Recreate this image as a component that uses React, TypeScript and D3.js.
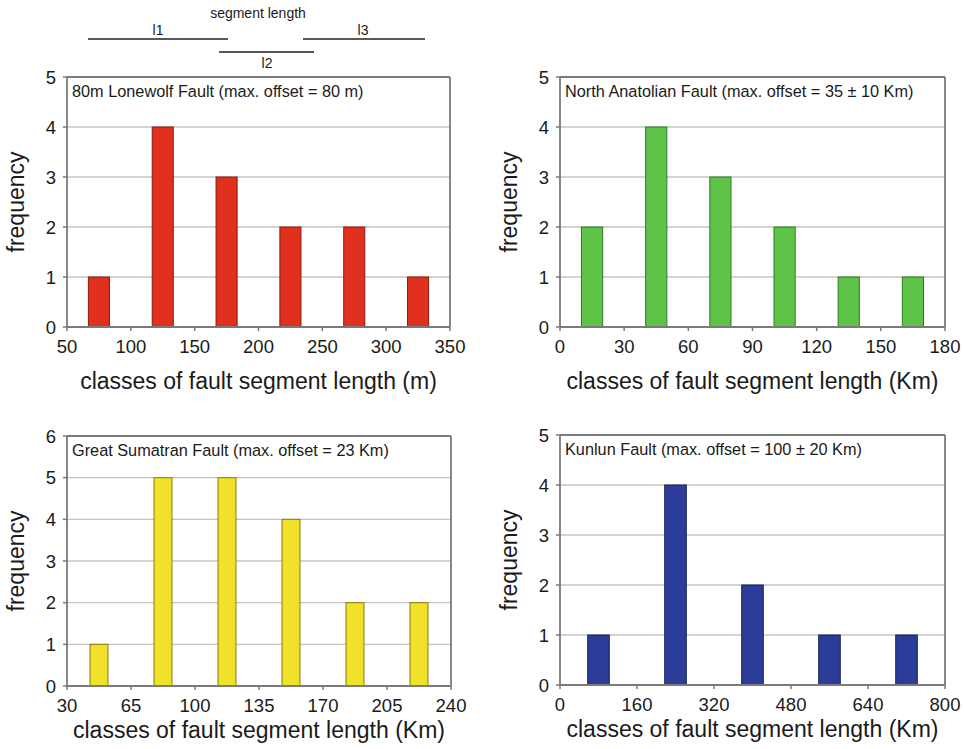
import React from "react";
import * as d3 from "d3";

const FONT = "'Liberation Sans', Arial, Helvetica, sans-serif";

// Panel 1: 80m Lonewolf Fault
const lonewolfCenters = [75, 125, 175, 225, 275, 325];
const lonewolfFreq = [1, 4, 3, 2, 2, 1];
const lonewolfTicks = [50, 100, 150, 200, 250, 300, 350];

// Panel 2: North Anatolian Fault
const anatolianCenters = [15, 45, 75, 105, 135, 165];
const anatolianFreq = [2, 4, 3, 2, 1, 1];
const anatolianTicks = [0, 30, 60, 90, 120, 150, 180];

// Panel 3: Great Sumatran Fault
const sumatranCenters = [47.5, 82.5, 117.5, 152.5, 187.5, 222.5];
const sumatranFreq = [1, 5, 5, 4, 2, 2];
const sumatranTicks = [30, 65, 100, 135, 170, 205, 240];

// Panel 4: Kunlun Fault
const kunlunCenters = [80, 240, 400, 560, 720];
const kunlunFreq = [1, 4, 2, 1, 1];
const kunlunTicks = [0, 160, 320, 480, 640, 800];

const panels = [
  {
    title: "80m Lonewolf Fault (max. offset = 80 m)",
    xLabel: "classes of fault segment length (m)",
    centers: lonewolfCenters, freq: lonewolfFreq, ticks: lonewolfTicks,
    yMax: 5, barFrac: 0.33, color: "#e2301f", stroke: "#8a1a10",
    left: 67, right: 450, top: 77, bottom: 327, xLabelOff: 62,
  },
  {
    title: "North Anatolian Fault (max. offset = 35 \u00b1 10 Km)",
    xLabel: "classes of fault segment length (Km)",
    centers: anatolianCenters, freq: anatolianFreq, ticks: anatolianTicks,
    yMax: 5, barFrac: 0.33, color: "#5ec447", stroke: "#2f7a25",
    left: 560, right: 945, top: 77, bottom: 327, xLabelOff: 62,
  },
  {
    title: "Great Sumatran Fault (max. offset = 23 Km)",
    xLabel: "classes of fault segment length (Km)",
    centers: sumatranCenters, freq: sumatranFreq, ticks: sumatranTicks,
    yMax: 6, barFrac: 0.28, color: "#f2e12a", stroke: "#8a7a10",
    left: 67, right: 451, top: 436, bottom: 686, xLabelOff: 52,
  },
  {
    title: "Kunlun Fault (max. offset = 100 \u00b1 20 Km)",
    xLabel: "classes of fault segment length (Km)",
    centers: kunlunCenters, freq: kunlunFreq, ticks: kunlunTicks,
    yMax: 5, barFrac: 0.28, color: "#2b3d99", stroke: "#17205a",
    left: 560, right: 945, top: 435, bottom: 685, xLabelOff: 52,
  },
];

function Panel({ p }: { p: any }) {
  const x = d3.scaleLinear().domain([p.ticks[0], p.ticks[p.ticks.length - 1]]).range([p.left, p.right]);
  const y = d3.scaleLinear().domain([0, p.yMax]).range([p.bottom, p.top]);
  const bin = p.ticks[1] - p.ticks[0];
  const bw = bin * p.barFrac;
  const yTicks = d3.range(0, p.yMax + 1);
  const cx = (p.left + p.right) / 2;
  const cy = (p.top + p.bottom) / 2;
  return (
    <g>
      {yTicks.filter((t) => t > 0 && t < p.yMax).map((t) => (
        <line key={"g" + t} x1={p.left} x2={p.right} y1={y(t)} y2={y(t)} stroke="#c4c4c4" strokeWidth={1.3} />
      ))}
      <line x1={p.left} x2={p.right} y1={p.top} y2={p.top} stroke="#7a7a7a" strokeWidth={1.8} />
      <line x1={p.right} x2={p.right} y1={p.top} y2={p.bottom} stroke="#7a7a7a" strokeWidth={1.8} />
      {p.centers.map((c: number, i: number) => (
        <rect key={i} x={x(c - bw / 2)} width={x(c + bw / 2) - x(c - bw / 2)} y={y(p.freq[i])}
          height={y(0) - y(p.freq[i])} fill={p.color} stroke={p.stroke} strokeWidth={1} />
      ))}
      <line x1={p.left} x2={p.left} y1={p.top} y2={p.bottom} stroke="#7a7a7a" strokeWidth={1.8} />
      <line x1={p.left} x2={p.right} y1={p.bottom} y2={p.bottom} stroke="#7a7a7a" strokeWidth={1.8} />
      {yTicks.map((t) => (
        <g key={"y" + t}>
          <line x1={p.left - 4} x2={p.left} y1={y(t)} y2={y(t)} stroke="#7a7a7a" strokeWidth={1.5} />
          <text x={p.left - 11} y={y(t)} dy="0.36em" textAnchor="end" fontSize={18.5} fontFamily={FONT} fill="#1a1a1a">{t}</text>
        </g>
      ))}
      {p.ticks.map((t: number) => (
        <g key={"x" + t}>
          <line x1={x(t)} x2={x(t)} y1={p.bottom} y2={p.bottom + 4} stroke="#7a7a7a" strokeWidth={1.5} />
          <text x={x(t)} y={p.bottom + 26} textAnchor="middle" fontSize={18.5} fontFamily={FONT} fill="#1a1a1a">{t}</text>
        </g>
      ))}
      <text x={p.left + 5} y={p.top + 20} fontSize={16.3} fontFamily={FONT} fill="#1a1a1a">{p.title}</text>
      <text x={cx} y={p.bottom + p.xLabelOff} textAnchor="middle" fontSize={23} fontFamily={FONT} fill="#1a1a1a">{p.xLabel}</text>
      <text transform={`translate(${p.left - 43},${cy}) rotate(-90)`} textAnchor="middle" fontSize={23} fontFamily={FONT} fill="#1a1a1a">frequency</text>
    </g>
  );
}

export default function App() {
  return (
    <svg width={964} height={749} style={{ position: "absolute", left: 0, top: 0, background: "#fff" }}>
      <rect x={0} y={0} width={964} height={749} fill="#fff" />
      <g fontFamily={FONT} fill="#1a1a1a">
        <text x={258} y={18} textAnchor="middle" fontSize={14}>segment length</text>
        <line x1={88} x2={228} y1={39} y2={39} stroke="#222" strokeWidth={1.3} />
        <text x={158} y={35} textAnchor="middle" fontSize={14}>l1</text>
        <line x1={303} x2={425} y1={39} y2={39} stroke="#222" strokeWidth={1.3} />
        <text x={363} y={35} textAnchor="middle" fontSize={14}>l3</text>
        <line x1={219} x2={314} y1={52} y2={52} stroke="#222" strokeWidth={1.3} />
        <text x={267} y={68} textAnchor="middle" fontSize={14}>l2</text>
      </g>
      {panels.map((p, i) => <Panel key={i} p={p} />)}
    </svg>
  );
}
